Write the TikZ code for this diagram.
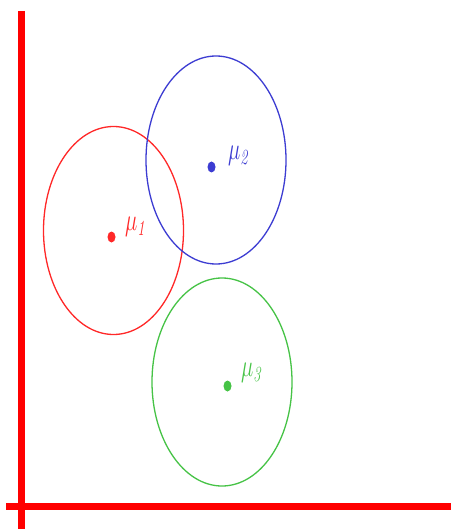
\documentclass[tikz,border=0pt]{standalone}
\usepackage{tikz}
\usetikzlibrary{shapes.geometric}
\definecolor{cred}{RGB}{255,40,40}
\definecolor{cblue}{RGB}{60,60,210}
\definecolor{cgreen}{RGB}{70,195,70}
\newcommand{\mulab}[1]{\scalebox{1}[1.5]{$\mu_{\mathit{\fontsize{16}{18}\selectfont #1}}$}}
\begin{document}
\begin{tikzpicture}[x=1pt,y=-1pt,
  axis/.style={draw=red,line width=7pt},
  clust/.style={draw,line width=1.3pt,ellipse,minimum width=140pt,minimum height=208pt,inner sep=0pt},
  cdot/.style={fill,ellipse,minimum width=8pt,minimum height=11pt,inner sep=0pt},
  mlabel/.style={inner sep=0pt,font=\fontsize{21}{25}\selectfont}]
\useasboundingbox (0,0) rectangle (451,529);
\fill[white] (0,0) rectangle (451,529);
\coordinate (vtop) at (21.5,11);
\coordinate (vbot) at (21.5,529);
\coordinate (hl) at (6,506);
\coordinate (hr) at (451,506);
\draw[axis] (vtop) -- (vbot);
\draw[axis] (hl) -- (hr);
\node[clust,draw=cred] (c1) at (113.5,230.5) {};
\node[clust,draw=cblue] (c2) at (216,160) {};
\node[clust,draw=cgreen] (c3) at (222,382) {};
\node[cdot,fill=cred] (d1) at (111.5,237) {};
\node[cdot,fill=cblue] (d2) at (211.5,167) {};
\node[cdot,fill=cgreen] (d3) at (227.5,386) {};
\node[mlabel,text=cred] (l1) at (136,227) {\mulab{1}};
\node[mlabel,text=cblue] (l2) at (239,156) {\mulab{2}};
\node[mlabel,text=cgreen] (l3) at (252,373) {\mulab{3}};
\end{tikzpicture}
\end{document}
